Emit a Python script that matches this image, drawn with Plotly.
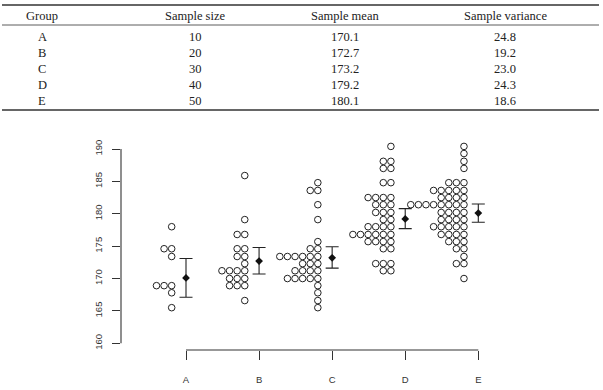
import plotly.graph_objects as go

# ---------------- data ----------------
groups = ["A", "B", "C", "D", "E"]
sample_size = [10, 20, 30, 40, 50]
sample_mean = [170.1, 172.7, 173.2, 179.2, 180.1]
sample_var = [24.8, 19.2, 23.0, 24.3, 18.6]

# plotted (binned) observation values per group
values_A = [178.0, 174.6, 174.6, 173.4, 168.9, 168.9, 168.9, 167.8, 165.5]
values_B = [185.9, 179.1, 176.8, 176.8, 174.6, 174.6, 173.4, 173.4, 172.3,
            171.2, 171.2, 171.2, 171.2, 170.0, 170.0, 170.0,
            168.9, 168.9, 168.9, 166.6]
values_C = [184.8, 183.6, 183.6, 181.4, 179.1, 175.7, 174.6, 174.6,
            173.4, 173.4, 173.4, 173.4, 173.4, 173.4,
            172.3, 172.3, 172.3, 171.2, 171.2, 171.2, 171.2,
            170.0, 170.0, 170.0, 170.0, 170.0,
            168.9, 167.8, 166.6, 165.5]
values_D = [190.4, 188.1, 188.1, 187.0, 187.0, 184.8, 184.8,
            182.5, 182.5, 182.5, 182.5, 181.4, 181.4, 181.4,
            180.2, 180.2, 180.2, 179.1, 179.1,
            178.0, 178.0, 178.0, 178.0,
            176.8, 176.8, 176.8, 176.8, 176.8, 176.8,
            175.7, 175.7, 175.7, 175.7, 174.6, 174.6,
            172.3, 172.3, 172.3, 171.2, 171.2]
values_E = [190.4, 189.3, 188.1, 187.0,
            184.8, 184.8, 184.8,
            183.6, 183.6, 183.6, 183.6, 183.6,
            182.5, 182.5, 182.5, 182.5,
            181.4, 181.4, 181.4, 181.4, 181.4, 181.4, 181.4, 181.4,
            180.2, 180.2, 180.2, 180.2,
            179.1, 179.1, 179.1, 179.1,
            178.0, 178.0, 178.0, 178.0, 178.0,
            176.8, 176.8, 176.8, 176.8,
            175.7, 175.7, 175.7, 174.6, 174.6,
            173.4, 172.3, 172.3, 170.0]
all_values = [values_A, values_B, values_C, values_D, values_E]

ci_low = [167.1, 170.7, 171.6, 177.7, 178.7]
ci_high = [173.1, 174.8, 174.9, 180.8, 181.5]

y_ticks = [160, 165, 170, 175, 180, 185, 190]

# ---------------- layout geometry ----------------
W, H = 603, 390
ML, MR, MT, MB = 121, 103, 140, 40
PW, PH = W - ML - MR, H - MT - MB
X_RANGE = [0.1105, 5.297]
Y_RANGE = [158.966, 191.39]

STEP = 0.104     # horizontal spacing between stacked dots (x units)
OFFSET = 0.196   # distance of first dot column left of group centre

def px_x(x):
    return (x - ML) / PW

def px_y(y):
    return (H - MB - y) / PH

xs, ys = [], []
for gi, vals in enumerate(all_values):
    counts = {}
    for v in vals:
        k = counts.get(v, 0)
        counts[v] = k + 1
        xs.append(gi + 1 - OFFSET - k * STEP)
        ys.append(v)

fig = go.Figure()
fig.add_trace(go.Scatter(
    x=xs, y=ys, mode="markers",
    marker=dict(symbol="circle-open", size=6.6, color="#222",
                line=dict(width=1.0, color="#222")),
    hoverinfo="y", showlegend=False))

pos = list(range(1, len(groups) + 1))
fig.add_trace(go.Scatter(
    x=pos, y=sample_mean, mode="markers",
    marker=dict(symbol="diamond", size=6, color="#111"),
    error_y=dict(type="data", symmetric=False,
                 array=[h - m for h, m in zip(ci_high, sample_mean)],
                 arrayminus=[m - l for l, m in zip(ci_low, sample_mean)],
                 color="#222", thickness=1.1, width=6.5),
    showlegend=False))

shapes = []
# R-style axis lines
shapes.append(dict(type="line", xref="paper", yref="y", x0=0, x1=0,
                   y0=y_ticks[0], y1=y_ticks[-1], line=dict(color="#333", width=1.1)))
shapes.append(dict(type="line", xref="x", yref="paper", x0=pos[0], x1=pos[-1],
                   y0=0, y1=0, line=dict(color="#333", width=1.1)))

# table rules
for yy, wd in [(5, 1.6), (25, 0.8), (110, 1.6)]:
    shapes.append(dict(type="line", xref="paper", yref="paper",
                       x0=px_x(2), x1=px_x(599), y0=px_y(yy), y1=px_y(yy),
                       line=dict(color="#333", width=wd)))

annotations = []
col_x = [42, 195, 345, 505]
header = ["Group", "Sample size", "Sample mean", "Sample variance"]
tfont = dict(family="Liberation Serif, DejaVu Serif, serif", size=12.5, color="#222")
for cx, t in zip(col_x, header):
    annotations.append(dict(x=px_x(cx), y=px_y(16), xref="paper", yref="paper",
                            text=t, showarrow=False, font=tfont,
                            xanchor="center", yanchor="middle"))
row_y = [37, 53, 69, 85, 101]
for i, ry in enumerate(row_y):
    cells = [groups[i], str(sample_size[i]), f"{sample_mean[i]:.1f}", f"{sample_var[i]:.1f}"]
    for cx, t in zip(col_x, cells):
        annotations.append(dict(x=px_x(cx), y=px_y(ry), xref="paper", yref="paper",
                                text=t, showarrow=False, font=tfont,
                                xanchor="center", yanchor="middle"))

afont = dict(family="Liberation Sans, Arial, sans-serif", size=9.5, color="#333")
fig.update_layout(
    width=W, height=H,
    margin=dict(l=ML, r=MR, t=MT, b=MB, pad=0, autoexpand=False),
    paper_bgcolor="white", plot_bgcolor="white",
    shapes=shapes, annotations=annotations,
    xaxis=dict(range=X_RANGE, tickvals=pos, ticktext=groups, showgrid=False,
               zeroline=False, showline=False, ticks="outside", ticklen=9,
               tickwidth=1.1, tickcolor="#333", tickfont=afont,
               ticklabelstandoff=12, automargin=False),
    yaxis=dict(range=Y_RANGE, tickvals=y_ticks, showgrid=False, zeroline=False,
               showline=False, ticks="outside", ticklen=8.5, tickwidth=1.1,
               tickcolor="#333", tickangle=-90, tickfont=afont,
               ticklabelstandoff=6, automargin=False),
)

fig.write_html("out.html")
